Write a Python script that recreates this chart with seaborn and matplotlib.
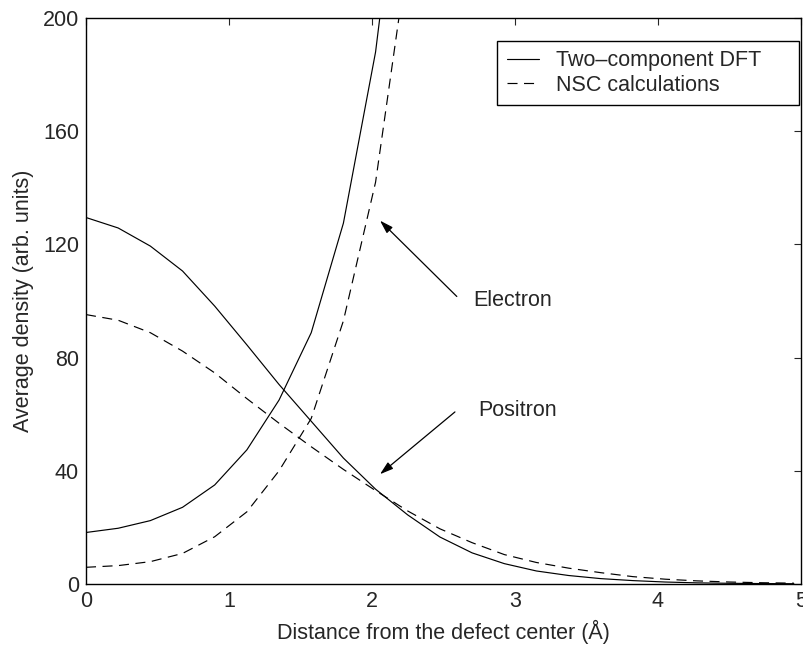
import numpy as np
import pandas as pd
import matplotlib
matplotlib.use("Agg")
import matplotlib.pyplot as plt
import seaborn as sns

# ---- data ----
x_grid = [0, 0.225, 0.45, 0.675, 0.9, 1.125, 1.35, 1.575, 1.8, 2.025, 2.25,
          2.475, 2.7, 2.925, 3.15, 3.375, 3.6, 3.825, 4.05, 4.275, 4.5, 4.725, 4.95]
positron_dft = [129.5, 125.8, 119.4, 110.6, 98.2, 84.5, 70.5, 57.5, 44.5, 33.5, 24.4,
                16.6, 11.0, 7.2, 4.6, 3.0, 1.9, 1.2, 0.7, 0.4, 0.25, 0.15, 0.1]
positron_nsc = [95.2, 93.2, 88.8, 82.3, 74.6, 65.5, 56.8, 48.5, 40.5, 33.0, 25.8,
                19.5, 14.6, 10.4, 7.6, 5.6, 4.0, 2.6, 1.7, 1.1, 0.7, 0.45, 0.3]
x_electron = [0, 0.225, 0.45, 0.675, 0.9, 1.125, 1.35, 1.575, 1.8, 2.025, 2.25]
electron_dft = [18.2, 19.7, 22.4, 27.1, 35.0, 47.4, 65.0, 88.8, 127.5, 188.0, 280.0]
electron_nsc = [5.9, 6.5, 7.9, 10.8, 16.7, 25.5, 40.0, 58.5, 93.0, 142.0, 222.0]

legend_labels = ["Two\u2013component DFT", "NSC calculations"]
x_ticks = [0, 1, 2, 3, 4, 5]
y_ticks = [0, 40, 80, 120, 160, 200]

sns.set_style("white")
plt.rcParams['font.family'] = ['Liberation Sans', 'DejaVu Sans']

FS = 15.5
LW = 0.85
fig = plt.figure(figsize=(8.04, 6.45), dpi=100)
ax = fig.add_axes([86 / 804, 61 / 645, 715 / 804, 566 / 645])

dash = (0, (8.5, 5.5))
pos = pd.DataFrame({"x": x_grid, "dft": positron_dft, "nsc": positron_nsc})
ele = pd.DataFrame({"x": x_electron, "dft": electron_dft, "nsc": electron_nsc})

sns.lineplot(data=pos, x="x", y="dft", ax=ax, color="black", lw=LW,
             label=legend_labels[0])
sns.lineplot(data=pos, x="x", y="nsc", ax=ax, color="black", lw=LW,
             linestyle=dash, label=legend_labels[1])
sns.lineplot(data=ele, x="x", y="dft", ax=ax, color="black", lw=LW, legend=False)
sns.lineplot(data=ele, x="x", y="nsc", ax=ax, color="black", lw=LW,
             linestyle=dash, legend=False)

ax.set_xlim(0, 5)
ax.set_ylim(0, 200)
ax.set_xticks(x_ticks)
ax.set_yticks(y_ticks)
ax.tick_params(direction="in", length=5, width=0.8, labelsize=FS,
               top=True, right=True, pad=5)
for s in ax.spines.values():
    s.set_linewidth(1.0)
    s.set_color("black")

ax.set_xlabel("Distance from the defect center (\u00c5)", fontsize=FS, labelpad=6)
ax.set_ylabel("Average density (arb. units)", fontsize=FS, labelpad=6)

x0 = (497 - 86) / 715
w = (799 - 497) / 715
top = (584 - 40.7) / 566
leg = ax.legend(loc="upper left", bbox_to_anchor=(x0, top - 0.2, w, 0.2),
                mode="expand", fontsize=FS,
                frameon=True, fancybox=False, framealpha=1, edgecolor="black",
                handlelength=1.5, handletextpad=0.8, borderpad=0.45,
                labelspacing=0.15, borderaxespad=0)
leg.get_frame().set_linewidth(1.0)
for h in leg.get_lines():
    h.set_linewidth(LW)

arrow = dict(arrowstyle="-|>,head_length=0.8,head_width=0.25", color="black", lw=0.9,
             shrinkA=0, shrinkB=0)
ax.annotate("", xy=(2.056, 128.4), xytext=(2.593, 101.6), arrowprops=arrow)
ax.annotate("", xy=(2.056, 38.8), xytext=(2.58, 60.8), arrowprops=arrow)
ax.text(2.706, 100.3, "Electron", fontsize=FS, va="center", ha="left")
ax.text(2.741, 61.4, "Positron", fontsize=FS, va="center", ha="left")

fig.savefig("out.png", dpi=100, facecolor="white")
